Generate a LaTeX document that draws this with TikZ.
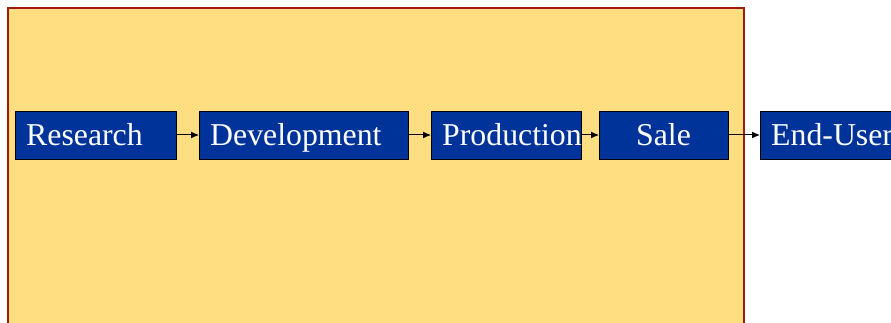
\documentclass[tikz,border=0pt]{standalone}
\usepackage{fontspec}
\setmainfont{Liberation Serif}
\usetikzlibrary{arrows.meta}
\definecolor{panelfill}{HTML}{FFDE82}
\definecolor{panelline}{HTML}{A01A10}
\definecolor{boxblue}{HTML}{003399}
\tikzset{
  stage/.style={draw=black, line width=0.9pt, fill=boxblue, minimum height=48pt,
    inner sep=0pt, anchor=west},
  lbl/.style={text=white, font=\fontsize{31.8}{36}\selectfont, inner sep=0pt},
  flow/.style={-{Latex[length=8pt,width=7pt]}, line width=1pt, black}
}
\begin{document}
\begin{tikzpicture}[x=1pt,y=-1pt]
  \useasboundingbox (0,0) rectangle (891,323);
  % background panel
  \draw[fill=panelfill, draw=panelline, line width=1.5pt] (8,8) -- (744,8) -- (744,330) -- (8,330) -- cycle;
  % stages
  \node[stage, minimum width=161pt] (res) at (15,135) {};
  \node[stage, minimum width=209pt] (dev) at (199,135) {};
  \node[stage, minimum width=150pt] (pro) at (431,135) {};
  \node[stage, minimum width=129pt] (sal) at (599,135) {};
  \node[stage, minimum width=150pt] (end) at (760,135) {};
  % labels
  \node[lbl, anchor=base west] (tres) at (26,146) {Research};
  \node[lbl, anchor=base west] (tdev) at (210,146) {Development};
  \node[lbl, anchor=base west] (tpro) at (442,146) {Production};
  \node[lbl, anchor=base] (tsal) at (663.5,146) {Sale};
  \node[lbl, anchor=base west] (tend) at (771,146) {End-User};
  % connectors
  \draw[flow] (res.east) -- (dev.west);
  \draw[flow] (dev.east) -- (pro.west);
  \draw[flow] (pro.east) -- (sal.west);
  \draw[flow] (sal.east) -- (end.west);
\end{tikzpicture}
\end{document}
